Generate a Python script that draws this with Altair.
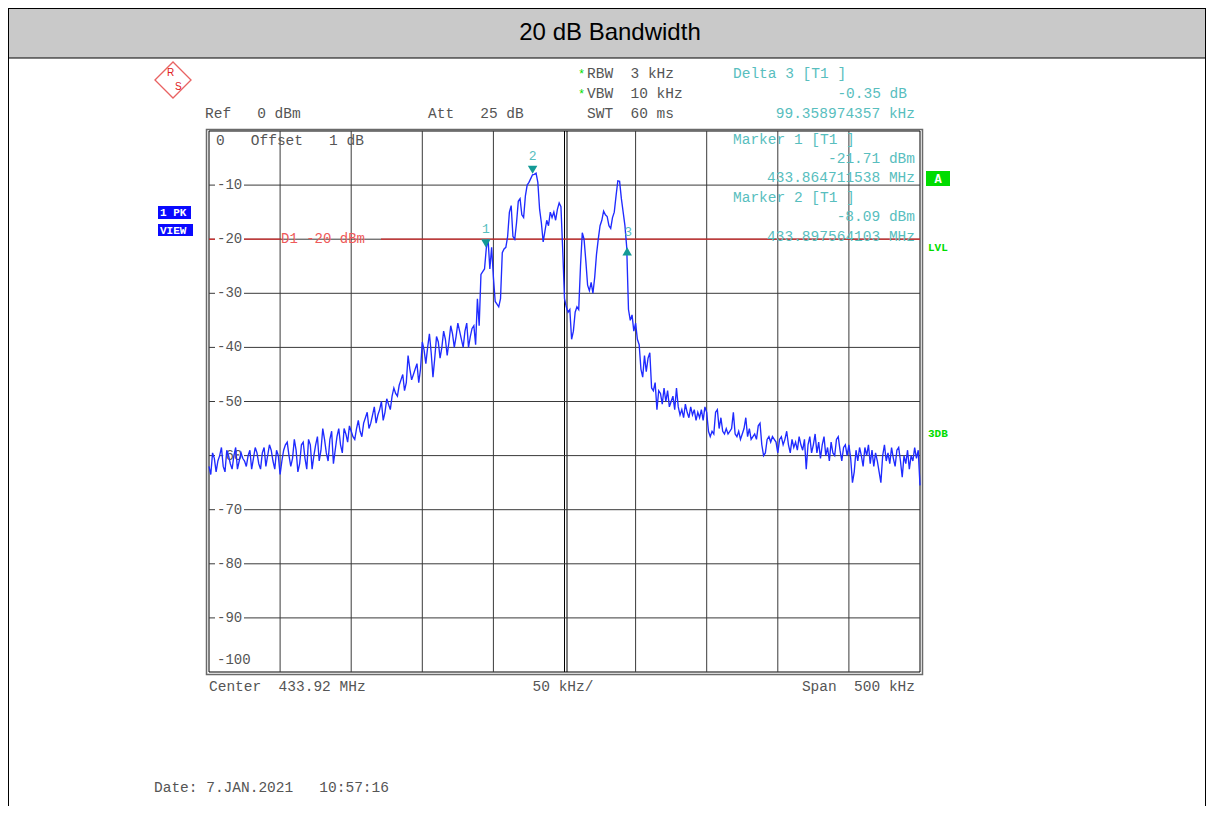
import altair as alt
import pandas as pd

# ---------------- data ----------------
CENTER_MHZ = 433.92
SPAN_KHZ = 500
START_KHZ = -250.0          # sweep start relative to centre
STEP_KHZ = 1.25             # sweep-point spacing
TRACE_DBM = [
    -62, -63.5, -59.5, -60.5, -63, -61, -60, -58.5, -62, -63,
    -59, -60, -61.5, -62.5, -60, -58.5, -62.5, -61, -59.5, -60.5,
    -61, -62, -60, -59, -62.5, -60.5, -58.5, -59.5, -61.5, -62.5,
    -59.5, -58.5, -62, -60, -58, -59, -61, -62.5, -59, -60,
    -63.5, -61, -59, -58, -57.5, -60, -62, -60.5, -57, -59,
    -63, -61.5, -58, -57.5, -60.5, -62.5, -57, -58, -62.5, -60,
    -58, -56.5, -61, -59, -55, -57, -59.5, -61, -57, -55.5,
    -61.5, -59, -56.5, -55, -58, -59.5, -55, -56, -57.5, -54.5,
    -55.5, -56.5, -57, -55, -53.5, -55.5, -56.5, -54, -53, -52,
    -55, -54, -52.5, -51, -54, -52.5, -51.5, -50, -53.5, -52,
    -49.5, -50.5, -51.5, -49, -47.5, -48.5, -49, -47, -46, -45,
    -48, -46.5, -41.5, -44, -46, -45, -44, -43, -46.5, -44,
    -39, -40.5, -43, -40, -37.5, -41, -45.5, -42, -38, -39,
    -42, -40, -37, -38.5, -41.5, -39, -36, -37.5, -40, -38,
    -35.5, -37, -38.5, -40, -37, -35.5, -40, -38, -36.5, -36,
    -39.5, -31, -36, -26.5, -26, -25.5, -21.7, -20, -25.5, -21.5,
    -27, -31.5, -32, -32.5, -31, -22.5, -21.8, -21.5, -19.5, -15,
    -13.8, -19.5, -20, -17, -13, -12.5, -15.5, -16, -12, -10,
    -9.5, -8.8, -8.1, -8, -7.8, -9.5, -14.5, -17, -20.5, -18.5,
    -16.5, -17.5, -15, -16, -15, -16.5, -14.5, -13.3, -14, -22,
    -31, -32.5, -33.5, -33, -38.5, -37, -33.5, -32.5, -33, -25,
    -18.8, -20, -24, -28.5, -29.5, -28, -30, -27, -22.8, -20,
    -17.5, -16.5, -14.8, -15.5, -15.8, -17.5, -18, -16, -15, -12,
    -9.2, -9.3, -12.5, -15, -17.5, -21.5, -33, -35, -34, -37,
    -35.5, -38.5, -39.5, -44, -45.5, -41.5, -44.5, -42, -41, -47.5,
    -48, -46.5, -51.5, -48, -48.5, -50.5, -47.5, -50, -48, -51,
    -50, -49, -51.5, -47.5, -51, -52.5, -51.5, -53, -50.5, -52,
    -53, -51, -52.5, -51.5, -53.5, -52, -53, -51.5, -53.5, -51,
    -52, -55.5, -56.5, -55.5, -56, -52, -51.5, -55, -53, -55.5,
    -56, -55, -56, -55.5, -55, -52, -56, -56.5, -55.5, -57,
    -56, -55, -53, -56.5, -55, -57, -56.5, -56, -57, -54.5,
    -54, -58, -60, -59.5, -57, -56.5, -57.5, -56.5, -57, -57.5,
    -59.5, -57, -56.5, -58, -57, -55.5, -58, -59.5, -57, -58.5,
    -57.5, -59, -56.5, -58, -59, -57, -62.5, -58, -56.5, -59.5,
    -58, -56, -59.5, -57.5, -60.5, -58, -56.5, -60, -58.5, -61,
    -57.5, -59.5, -60, -57, -56.5, -59, -61, -58.5, -58, -60,
    -58, -60.5, -65, -63, -59, -61, -58.5, -60, -62, -58.5,
    -60, -58, -61.5, -59, -62, -59.5, -61, -63, -65, -60,
    -58, -61, -59.5, -61.5, -58.5, -60.5, -62, -59, -58.5, -61,
    -64, -60, -61.5, -59, -62.5, -60, -61, -58.5, -60.5, -59,
    -65.5,
]
MARKER_ID = ["1", "2", "3"]
MARKER_KHZ = [-55.288, -22.436, 44.071]
MARKER_DBM = [-21.71, -8.09, -22.06]
MARKER_DIR = ["down", "down", "up"]
D1_DBM = -20
GRID_KHZ = [-200, -150, -100, -50, 50, 100, 150, 200]
GRID_DBM = [-10, -20, -30, -40, -50, -60, -70, -80, -90]
YLABELS = ["-10", "-20", "-30", "-40", "-50", "-60", "-70", "-80", "-90"]

# ---------------- layout / style ----------------
W, H = 711, 541
PAD = {"left": 201, "top": 123, "right": 286, "bottom": 134}
MONO = "Liberation Mono"
SANS = "Liberation Sans"
GRAY_TXT = "#555555"
CYAN = "#58bebe"
TEAL = "#139a96"
GREEN = "#00dc00"
BLUE = "#0a0aff"
TRACE = "#1f2bff"
GRID = "#3a3a3a"
RED_LINE = "#d42a2a"
RED_TXT = "#ee5a5a"

xs = alt.Scale(domain=[-SPAN_KHZ / 2, SPAN_KHZ / 2], nice=False, zero=False)
ys = alt.Scale(domain=[-100, 0], nice=False, zero=False)

freqs = [START_KHZ + i * STEP_KHZ for i in range(len(TRACE_DBM))]
trace_df = pd.DataFrame({"khz": freqs, "dbm": TRACE_DBM})
mk_df = pd.DataFrame({"id": MARKER_ID, "khz": MARKER_KHZ, "dbm": MARKER_DBM, "dir": MARKER_DIR})
vg_df = pd.DataFrame({"khz": GRID_KHZ})
hg_df = pd.DataFrame({"dbm": GRID_DBM, "lab": YLABELS})
ONE = pd.DataFrame({"k": [0]})
NB = "\u00a0"


def sp(s):
    return s.replace(" ", NB)


def txt(s, x, y, color=GRAY_TXT, size=14.5, align="left", font=MONO, weight="normal"):
    return alt.Chart(ONE).mark_text(
        text=sp(s), align=align, baseline="middle", font=font, fontSize=size,
        color=color, fontWeight=weight
    ).encode(x=alt.value(x), y=alt.value(y))


def box(x1, x2, y1, y2, fill, stroke=None, sw=1):
    kw = dict(fill=fill)
    if stroke:
        kw.update(stroke=stroke, strokeWidth=sw)
    else:
        kw.update(strokeWidth=0)
    return alt.Chart(ONE).mark_rect(**kw).encode(
        x=alt.value(x1), x2=alt.value(x2), y=alt.value(y1), y2=alt.value(y2))


def vline(x, y1, y2, color="black", sw=1):
    return alt.Chart(ONE).mark_rule(color=color, strokeWidth=sw).encode(
        x=alt.value(x), y=alt.value(y1), y2=alt.value(y2))


layers = []
# outer page frame and title bar
layers.append(box(-200.5, 996.5, -122.5, -73, "#c9c9c9", "black", 1))
layers.append(vline(-200.5, -123, 680))
layers.append(vline(996.5, -123, 680))
layers.append(txt("20 dB Bandwidth", 401, -98, color="black", size=24, align="center", font=SANS))

# plot frame (double)
layers.append(box(-2.5, W + 2.5, -1.5, H + 2.5, "white", "#6a6a6a", 1.5))
layers.append(box(0, W, 0, H, "white", "black", 1))

# grid
layers.append(alt.Chart(vg_df).mark_rule(color=GRID, strokeWidth=1).encode(
    x=alt.X("khz:Q", scale=xs, axis=None), y=alt.value(0), y2=alt.value(H)))
layers.append(alt.Chart(ONE).mark_rule(color="black", strokeWidth=1).encode(
    x=alt.X("k:Q", scale=xs, axis=None), y=alt.value(0), y2=alt.value(H)))
layers.append(alt.Chart(ONE).mark_rule(color="black", strokeWidth=1, xOffset=2.5).encode(
    x=alt.X("k:Q", scale=xs, axis=None), y=alt.value(0), y2=alt.value(H)))
layers.append(alt.Chart(hg_df).mark_rule(color=GRID, strokeWidth=1).encode(
    y=alt.Y("dbm:Q", scale=ys, axis=None), x=alt.value(0), x2=alt.value(6)))
layers.append(alt.Chart(hg_df).mark_rule(color=GRID, strokeWidth=1).encode(
    y=alt.Y("dbm:Q", scale=ys, axis=None), x=alt.value(35), x2=alt.value(W)))
layers.append(alt.Chart(hg_df).mark_text(
    align="left", baseline="middle", font=MONO, fontSize=14, color=GRAY_TXT).encode(
    y=alt.Y("dbm:Q", scale=ys, axis=None), x=alt.value(8), text="lab:N"))
layers.append(txt("0   Offset   1 dB", 7, 10))
layers.append(txt("-100", 8, 529, size=14))

# display line D1
d1 = pd.DataFrame({"dbm": [D1_DBM]})
for a, b in [(0, 6), (35, 72), (172, W)]:
    layers.append(alt.Chart(d1).mark_rule(color=RED_LINE, strokeWidth=1.3).encode(
        y=alt.Y("dbm:Q", scale=ys, axis=None), x=alt.value(a), x2=alt.value(b)))
layers.append(txt("D1 -20 dBm", 72, 107.5, color=RED_TXT, size=14))

# trace
layers.append(alt.Chart(trace_df).mark_line(color=TRACE, strokeWidth=1.35).encode(
    x=alt.X("khz:Q", scale=xs, axis=None), y=alt.Y("dbm:Q", scale=ys, axis=None)))

# markers
layers.append(alt.Chart(mk_df).transform_filter("datum.dir == 'down'").mark_point(
    shape="triangle-down", filled=True, color=TEAL, size=90, yOffset=-5, opacity=1).encode(
    x=alt.X("khz:Q", scale=xs, axis=None), y=alt.Y("dbm:Q", scale=ys, axis=None)))
layers.append(alt.Chart(mk_df).transform_filter("datum.dir == 'up'").mark_point(
    shape="triangle-up", filled=True, color=TEAL, size=90, yOffset=1, opacity=1).encode(
    x=alt.X("khz:Q", scale=xs, axis=None), y=alt.Y("dbm:Q", scale=ys, axis=None)))
layers.append(alt.Chart(mk_df).transform_filter("datum.dir == 'down'").mark_text(
    font=MONO, fontSize=13, color=CYAN, yOffset=-19, baseline="middle").encode(
    x=alt.X("khz:Q", scale=xs, axis=None), y=alt.Y("dbm:Q", scale=ys, axis=None), text="id:N"))
layers.append(alt.Chart(mk_df).transform_filter("datum.dir == 'up'").mark_text(
    font=MONO, fontSize=13, color=CYAN, yOffset=-18, xOffset=1, baseline="middle").encode(
    x=alt.X("khz:Q", scale=xs, axis=None), y=alt.Y("dbm:Q", scale=ys, axis=None), text="id:N"))

# header texts
layers.append(txt("Ref   0 dBm", -4, -17))
layers.append(txt("Att   25 dB", 219, -17))
layers.append(txt("*", 369, -57, color=GREEN, size=12))
layers.append(txt("*", 369, -37, color=GREEN, size=12))
layers.append(txt("RBW  3 kHz", 378, -57))
layers.append(txt("VBW  10 kHz", 378, -37))
layers.append(txt("SWT  60 ms", 378, -17))
layers.append(txt("Delta 3 [T1 ]", 524, -57, color=CYAN))
layers.append(txt("-0.35 dB", 698, -37, color=CYAN, align="right"))
layers.append(txt("99.358974357 kHz", 706, -17, color=CYAN, align="right"))
layers.append(txt("Marker 1 [T1 ]", 524, 9, color=CYAN))
layers.append(txt("-21.71 dBm", 706, 28, color=CYAN, align="right"))
layers.append(txt("433.864711538 MHz", 706, 47, color=CYAN, align="right"))
layers.append(txt("Marker 2 [T1 ]", 524, 67, color=CYAN))
layers.append(txt("-8.09 dBm", 706, 86, color=CYAN, align="right"))
layers.append(txt("433.897564103 MHz", 706, 106, color=CYAN, align="right"))

# bottom texts
layers.append(txt("Center  433.92 MHz", 0, 556))
layers.append(txt("50 kHz/", 354, 556, align="center"))
layers.append(txt("Span  500 kHz", 706, 556, align="right"))
layers.append(txt("Date: 7.JAN.2021   10:57:16", -55, 657))

# side indicators
layers.append(box(717, 741, 40, 55, GREEN))
layers.append(txt("A", 729, 48, color="white", size=12, align="center", weight="bold"))
layers.append(txt("LVL", 719, 117, color=GREEN, size=11, weight="bold"))
layers.append(txt("3DB", 719, 303, color=GREEN, size=11, weight="bold"))
layers.append(box(-51, -18, 75, 88, BLUE))
layers.append(txt("1 PK", -49, 82, color="white", size=11, weight="bold"))
layers.append(box(-51, -16, 93, 105, BLUE))
layers.append(txt("VIEW", -49, 99.5, color="white", size=11, weight="bold"))

# R&S logo
layers.append(alt.Chart(ONE).mark_point(shape="diamond", filled=False, color="#e02020",
                                        size=1300, strokeWidth=1.3).encode(
    x=alt.value(-36), y=alt.value(-51)))
layers.append(txt("R", -42, -58, color="#e02020", size=10, font=SANS))
layers.append(txt("S", -34, -44, color="#e02020", size=10, font=SANS))

chart = alt.layer(*layers).properties(
    width=W, height=H, padding=PAD,
    autosize=alt.AutoSizeParams(type="none"),
    background="white",
).configure_view(stroke=None)

chart.save("out.html", embed_options={"renderer": "svg", "actions": False})
